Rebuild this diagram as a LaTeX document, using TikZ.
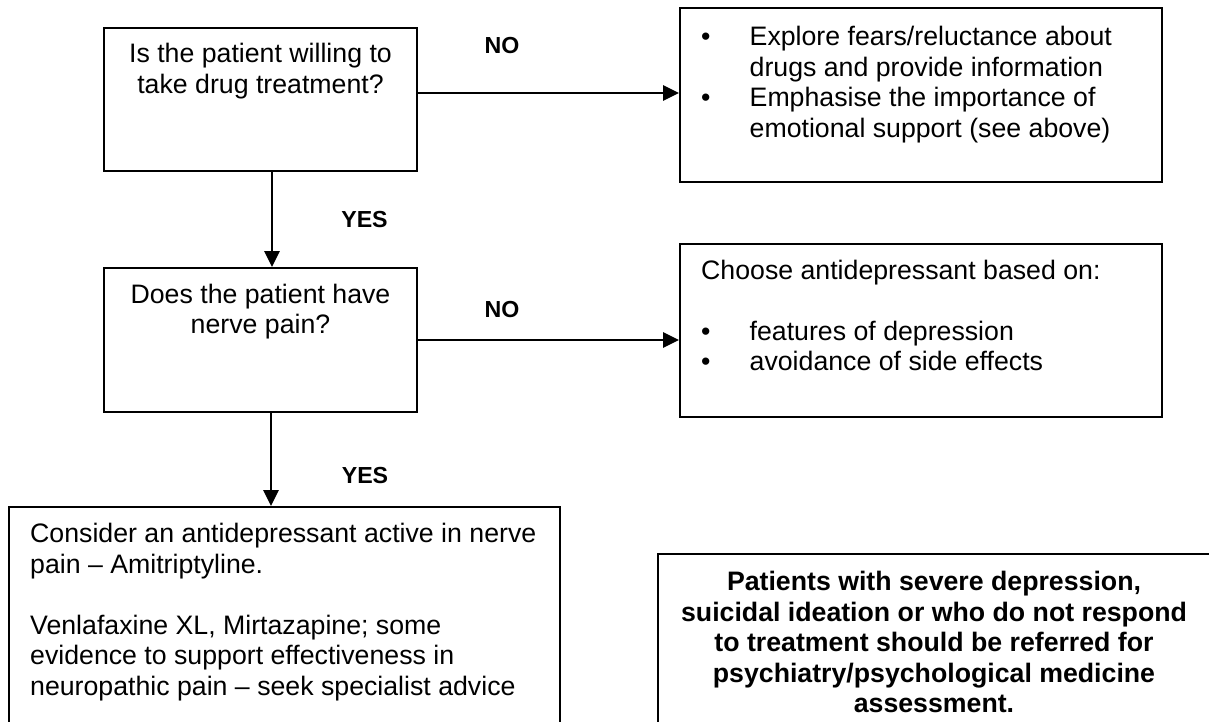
\documentclass[tikz,border=0pt]{standalone}
\usepackage{fontspec}
\setmainfont{Liberation Sans}
\usetikzlibrary{arrows.meta}
\newcommand{\bodyfont}{\fontsize{26.7pt}{30.5pt}\selectfont}
\newcommand{\tagfont}{\fontsize{23.2pt}{27pt}\selectfont\bfseries}

\tikzset{
  box/.style={draw, line width=2pt, inner sep=0pt},
  txt/.style={inner sep=0pt, font=\bodyfont},
  lbl/.style={inner sep=0pt, font=\tagfont},
  arr/.style={line width=1.5pt, -{Triangle[length=16pt,width=15.5pt]}}
}

\begin{document}
\begin{tikzpicture}[x=1pt,y=-1pt]
	\useasboundingbox (0,0) rectangle (1209,722);
	\clip (0,0) rectangle (1209,722);

	% boxes
	\node[box, minimum width=313pt, minimum height=143pt] (q1) at (260.5,99.5) {};
	\node[box, minimum width=482pt, minimum height=174pt] (r1) at (921,95) {};
	\node[box, minimum width=313pt, minimum height=144pt] (q2) at (260.5,340) {};
	\node[box, minimum width=482pt, minimum height=173pt] (r2) at (921,330.5) {};
	\node[box, minimum width=551pt, minimum height=253pt] (cons) at (284.5,633.5) {};
	\node[box, minimum width=554pt, minimum height=226pt] (refer) at (935,667) {};

	% texts
	\node[txt, anchor=base] (q1t) at (260.5,63) {\begin{tabular}[t]{@{}c@{}}
		Is the patient willing to\\
		take drug treatment?
	\end{tabular}};
	\node[txt, anchor=base] (q2t) at (260.5,303) {\begin{tabular}[t]{@{}c@{}}
		Does the patient have\\
		nerve pain?
	\end{tabular}};
	\node[txt, anchor=base west] (r1t) at (701,46) {\begin{tabular}[t]{@{}p{48.5pt}@{}l@{}}
		\textbullet & Explore fears/reluctance about\\
		 & drugs and provide information\\
		\textbullet & Emphasise the importance of\\
		 & emotional support (see above)
	\end{tabular}};
	\node[txt, anchor=base west] (r2t) at (701,279) {\begin{tabular}[t]{@{}p{48.5pt}@{}l@{}}
		\multicolumn{2}{@{}l@{}}{Choose antidepressant based on:}\\
		 & \\
		\textbullet & features of depression\\
		\textbullet & avoidance of side effects
	\end{tabular}};
	\node[txt, anchor=base west] (const) at (30,542.7) {\begin{tabular}[t]{@{}l@{}}
		Consider an antidepressant active in nerve\\
		pain – Amitriptyline.\\
		\\
		Venlafaxine XL, Mirtazapine; some\\
		evidence to support effectiveness in\\
		neuropathic pain – seek specialist advice
	\end{tabular}};
	\node[txt, font=\bodyfont\bfseries, anchor=base] (refert) at (934,590.7) {\begin{tabular}[t]{@{}c@{}}
		Patients with severe depression,\\
		suicidal ideation or who do not respond\\
		to treatment should be referred for\\
		psychiatry/psychological medicine\\
		assessment.
	\end{tabular}};

	% answers
	\node[lbl] (no1) at (502,46) {NO};
	\node[lbl] (yes1) at (364.5,219.5) {YES};
	\node[lbl] (no2) at (502,310) {NO};
	\node[lbl] (yes2) at (365,476) {YES};

	% arrows
	\draw[arr] ([yshift=6.5pt]q1.east) -- ([yshift=6.5pt]q1.east -| r1.west);
	\draw[arr] ([xshift=11.5pt]q1.south) -- ([xshift=11.5pt]q1.south |- q2.north);
	\draw[arr] (q2.east) -- (q2.east -| r2.west);
	\draw[arr] ([xshift=10.5pt]q2.south) -- ([xshift=10.5pt]q2.south |- cons.north);
\end{tikzpicture}
\end{document}
